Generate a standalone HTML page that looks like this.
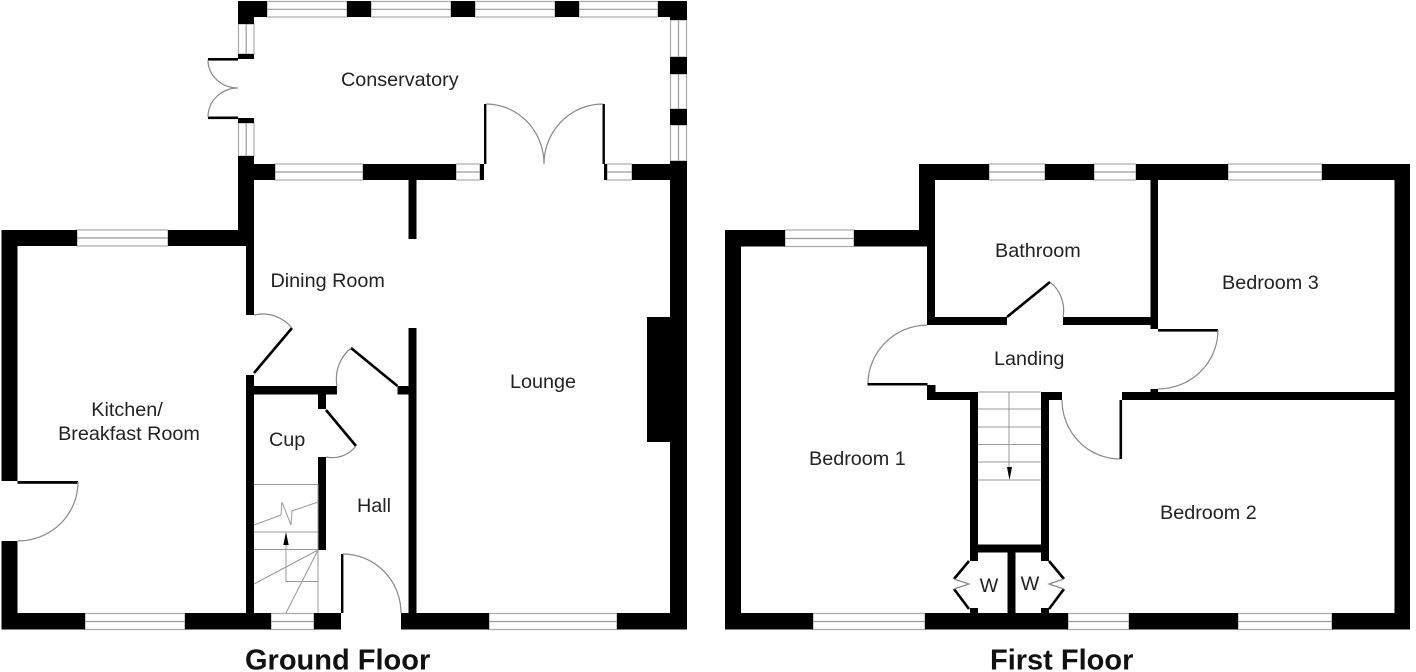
<!DOCTYPE html>
<html><head><meta charset="utf-8"><style>
html,body{margin:0;padding:0;background:#fff;width:1416px;height:672px;overflow:hidden}
svg{display:block}
text{font-family:"Liberation Sans",sans-serif;fill:#222;font-size:19.8px}
.t{font-weight:bold;font-size:29px;fill:#111}
.w{fill:#fff;stroke:#aaa;stroke-width:1.2}
.m{stroke:#999;stroke-width:1.2;fill:none}
.a{fill:none;stroke:#888;stroke-width:1.2}
.s{fill:none;stroke:#999;stroke-width:1}
.l{stroke:#000;stroke-width:2.6;fill:none}
</style></head><body>
<svg width="1416" height="672" viewBox="0 0 1416 672" xmlns="http://www.w3.org/2000/svg">
<!-- GROUND windows -->
<g class="w">
<rect x="267" y="1.5" width="80" height="15.5"/><rect x="371" y="1.5" width="80" height="15.5"/><rect x="475" y="1.5" width="80" height="15.5"/><rect x="579" y="1.5" width="79" height="15.5"/>
<rect x="670.5" y="20" width="16" height="37"/><rect x="670.5" y="74" width="16" height="35"/><rect x="670.5" y="125" width="16" height="36"/>
<rect x="238.5" y="24" width="15.5" height="30"/><rect x="238.5" y="123" width="15.5" height="33"/>
<rect x="275" y="164" width="88" height="16"/><rect x="456" y="164" width="24" height="16"/><rect x="607" y="164" width="25" height="16"/>
<rect x="77" y="230" width="91" height="16"/>
<rect x="85" y="613.5" width="100" height="16"/><rect x="271" y="613.5" width="43" height="16"/><rect x="489" y="613.5" width="128" height="16"/>
<!-- FIRST windows -->
<rect x="989" y="164" width="56" height="16"/><rect x="1094" y="164" width="42" height="16"/><rect x="1228" y="164" width="94" height="16"/>
<rect x="785" y="230" width="69" height="16.5"/>
<rect x="813" y="613.5" width="112" height="16"/><rect x="1068" y="613.5" width="61" height="16"/><rect x="1238" y="613.5" width="94" height="16"/>
</g>
<path class="m" d="M267 9.3H658M678.5 20V161M246.2 24V54M246.2 123V156M275 172H363M456 172H480M607 172H632M77 238H168M85 621.5H185M271 621.5H314M489 621.5H617M989 172H1045M1094 172H1136M1228 172H1322M785 238.500H854M813 621.500H925M1068 621.500H1129M1238 621.500H1332"/>
<!-- GROUND walls -->
<g fill="#000">
<rect x="238" y="1" width="29" height="16"/><rect x="238" y="1" width="16" height="23"/>
<rect x="347" y="1" width="24" height="16"/><rect x="451" y="1" width="24" height="16"/><rect x="555" y="1" width="24" height="16"/>
<rect x="658" y="1" width="29" height="16"/><rect x="670" y="1" width="17" height="19"/>
<rect x="670" y="57" width="17" height="17"/><rect x="670" y="109" width="17" height="16"/>
<rect x="670" y="161" width="17" height="468"/>
<rect x="238" y="54" width="16" height="5"/><rect x="238" y="118" width="16" height="5"/>
<rect x="208" y="58" width="30" height="2.600"/><rect x="208" y="116.500" width="30" height="2.600"/>
<rect x="238" y="156" width="16" height="90"/>
<rect x="238" y="164" width="37" height="16"/><rect x="363" y="164" width="93" height="16"/>
<rect x="480" y="164" width="4" height="16"/><rect x="604" y="164" width="3" height="16"/><rect x="632" y="164" width="55" height="16"/>
<rect x="484" y="104" width="2.400" height="60"/><rect x="602.500" y="104" width="2.400" height="60"/>
<rect x="408.500" y="180" width="8" height="59"/><rect x="408.500" y="328" width="8" height="301"/>
<rect x="246" y="230" width="8" height="85"/><rect x="246" y="375" width="8" height="254"/>
<rect x="1.500" y="230" width="75.500" height="16"/><rect x="168" y="230" width="78" height="16"/>
<rect x="1.500" y="230" width="16" height="251"/><rect x="1.500" y="541" width="16" height="88"/>
<rect x="17.500" y="481" width="60.500" height="2.800"/>
<rect x="1.500" y="613" width="83.500" height="16.500"/><rect x="185" y="613" width="86" height="16.500"/><rect x="314" y="613" width="27" height="16.500"/><rect x="401" y="613" width="88" height="16.500"/><rect x="617" y="613" width="70" height="16.500"/>
<rect x="341" y="554" width="2.400" height="59"/>
<rect x="254" y="386" width="83" height="8.500"/><rect x="318" y="386" width="8" height="23"/><rect x="397.500" y="386" width="11" height="8.500"/>
<rect x="318" y="457" width="8" height="93"/>
<rect x="647" y="317" width="23" height="125"/>
<!-- FIRST walls -->
<rect x="919" y="164" width="70" height="16"/><rect x="1045" y="164" width="49" height="16"/><rect x="1136" y="164" width="92" height="16"/><rect x="1322" y="164" width="88" height="16"/>
<rect x="919" y="164" width="16" height="82"/><rect x="927" y="230" width="8" height="95"/>
<rect x="725" y="230" width="60" height="16.500"/><rect x="854" y="230" width="73" height="16.500"/>
<rect x="725" y="230" width="16" height="399"/><rect x="1394.500" y="164" width="15.500" height="465.500"/>
<rect x="725" y="613" width="88" height="16.500"/><rect x="925" y="613" width="143" height="16.500"/><rect x="1129" y="613" width="109" height="16.500"/><rect x="1332" y="613" width="78" height="16.500"/>
<rect x="927" y="317" width="80" height="8"/><rect x="1063" y="317" width="95" height="8"/>
<rect x="1150.500" y="180" width="7.500" height="149"/>
<rect x="1158" y="329" width="60" height="2.600"/><rect x="1150.500" y="389" width="7.500" height="4"/>
<rect x="1122" y="392" width="272.500" height="8"/><rect x="1119.500" y="400" width="2.600" height="59"/>
<rect x="867.500" y="383" width="60" height="2.500"/><rect x="927" y="385" width="8.500" height="8"/>
<rect x="927" y="392" width="50" height="8"/><rect x="1041" y="392" width="21" height="8"/>
<rect x="970" y="392" width="8" height="169"/><rect x="1041" y="392" width="8" height="169"/>
<rect x="970" y="544.500" width="79" height="8"/><rect x="1007.500" y="552" width="8" height="62"/>
<rect x="970" y="608" width="8" height="6"/><rect x="1041" y="608" width="8" height="6"/>
</g>
<!-- door leaves -->
<path class="l" d="M292 328L254 373M351 348L397.500 386M326 410L356 446M1007 317L1050 282M969 561L954 579M954 589L969 609M1049 561L1064 579M1064 589L1049 609"/>
<!-- arcs -->
<path class="a" d="M208 60A30 28 0 0 0 238 88M208 117A30 29 0 0 1 238 88M486 104A58 60 0 0 1 544 164M603 104A59 60 0 0 0 544 164M78 482A60 59 0 0 1 18 541M343 554A58 59 0 0 1 401 613M254 315A38 38 0 0 1 292 328M337 386A40 40 0 0 1 351 348M356 446A30 30 0 0 1 326 457M1050 282A36 36 0 0 1 1063 317M1218 330A60 59 0 0 1 1158 389M927 325A60 59 0 0 0 868 383M1062 400A58 59 0 0 0 1119.500 459M954 579L969 584L954 589M1064 579L1049 584L1064 589"/>
<!-- stairs ground -->
<path class="s" d="M254 484.500H318M254 532H318M254 549.500H318M254 525L281 515L282 502L291 525L292 511L318 502M318 484V613M318 550L254 584M318 550L286 613M318 581.500H286V544"/>
<polygon points="286,532 283.300,545 288.700,545" fill="#000"/>
<!-- stairs first -->
<path class="s" d="M978 392H1041M978 409H1041M978 427H1041M978 444.500H1041M978 462H1041M978 480H1041M1009 392V470"/>
<polygon points="1009.500,480 1007,467 1012,467" fill="#000"/>
<!-- labels -->
<text x="341" y="86">Conservatory</text>
<text x="270.500" y="287">Dining Room</text>
<text x="510" y="388">Lounge</text>
<text x="127" y="416" text-anchor="middle">Kitchen/</text>
<text x="129" y="440" text-anchor="middle">Breakfast Room</text>
<text x="269" y="446">Cup</text>
<text x="357" y="512">Hall</text>
<text x="995" y="257">Bathroom</text>
<text x="1222" y="289">Bedroom 3</text>
<text x="994" y="365">Landing</text>
<text x="809" y="465">Bedroom 1</text>
<text x="1160" y="519">Bedroom 2</text>
<text x="989" y="592" text-anchor="middle">W</text>
<text x="1030" y="590" text-anchor="middle">W</text>
<text class="t" x="245" y="669.5">Ground Floor</text>
<text class="t" x="990" y="669.5">First Floor</text>
</svg>
</body></html>
